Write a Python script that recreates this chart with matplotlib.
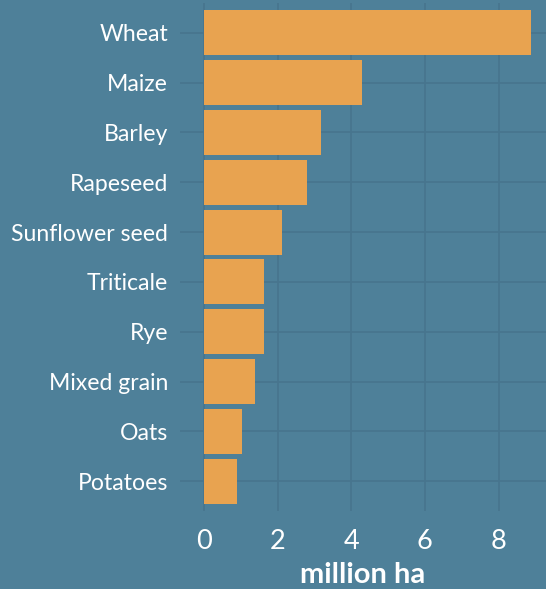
import matplotlib
matplotlib.use("Agg")
import matplotlib.pyplot as plt

crops = ["Wheat", "Maize", "Barley", "Rapeseed", "Sunflower seed",
         "Triticale", "Rye", "Mixed grain", "Oats", "Potatoes"]
area_mha = [8.88, 4.29, 3.18, 2.80, 2.12, 1.63, 1.63, 1.39, 1.03, 0.90]
xticks = [0, 2, 4, 6, 8]

BG = "#4e8099"
BAR = "#e8a350"
GRID = "#47758e"

plt.rcParams['font.family'] = ['Lato', 'DejaVu Sans']

fig = plt.figure(figsize=(5.46, 5.89), dpi=100, facecolor=BG)
ax = fig.add_axes([180/546, (589-511)/589, 366/546, 508/589])
ax.set_facecolor(BG)

pos = list(range(len(crops)))
ax.barh(pos, area_mha, height=0.9, color=BAR, zorder=3)
ax.set_yticks(pos)
ax.set_yticklabels(crops)
ax.set_ylim(len(crops) - 0.4, -0.6)
ax.set_xlim(-0.65, 9.29)
ax.set_xticks(xticks)
ax.set_xticklabels([str(t) for t in xticks])

ax.grid(True, color=GRID, linewidth=1.2, zorder=0)
for s in ax.spines.values():
    s.set_visible(False)
ax.tick_params(axis='both', length=0, colors='white')
ax.tick_params(axis='y', pad=8.5, labelsize=16.6)
ax.tick_params(axis='x', pad=13, labelsize=19.5)
ax.set_xlabel("million ha", color='white', fontsize=21, fontweight='bold', labelpad=5.5)

fig.savefig("out.png", dpi=100, facecolor=BG)
